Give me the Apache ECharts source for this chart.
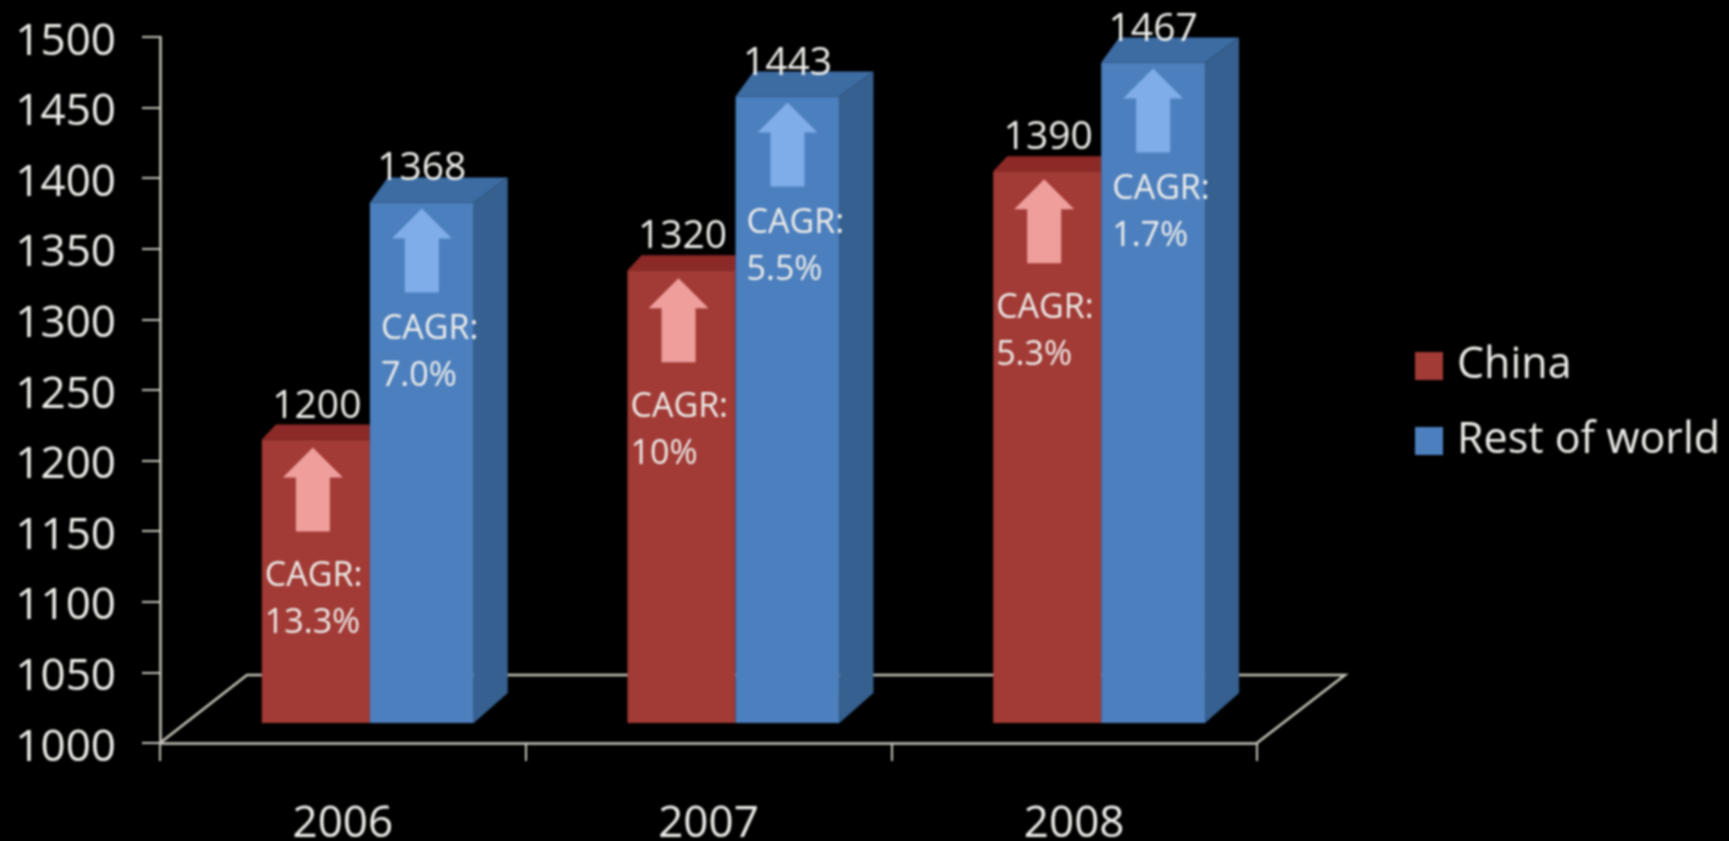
<!DOCTYPE html>
<html><head><meta charset="utf-8">
<style>html,body{margin:0;padding:0;background:#000}#c{width:1729px;height:841px;filter:blur(0.8px)}</style>
<script src="https://cdn.jsdelivr.net/npm/echarts@6/dist/echarts.min.js"></script>
</head><body><div id="c"></div>
<script>
const years = ['2006','2007','2008'];
const china = [1200,1320,1390];
const restOfWorld = [1368,1443,1467];
const chinaCagr = ['13.3%','10%','5.3%'];
const restCagr = ['7.0%','5.5%','1.7%'];

const FONT = '"Open Sans", sans-serif';
const GREY = '#c4c4ba';
const TEXT = '#ededea';
const LIFT = 20;

function arrow(cx, tip, color) {
  const pts = [[cx,tip],[cx+30,tip+30],[cx+17,tip+30],[cx+17,tip+84],[cx-17,tip+84],[cx-17,tip+30],[cx-30,tip+30]];
  return {type:'polygon', shape:{points:pts}, style:{fill:color}, z2:5};
}
function text(x,y,str,size,align){
  return {type:'text', z2:100, style:{x:x,y:y,text:str,fill:TEXT,font:'400 '+size+'px '+FONT,textAlign:align,textVerticalAlign:'middle'}};
}
function barItem(kind, cagr){
  return function(params, api){
    const i = api.value(0), v = api.value(1);
    const p = api.coord([i,v]), base = api.coord([i,1000]);
    const band = api.size([1,0])[0];
    const cx = p[0];
    const xL = cx - band*0.2215, xM = cx + band*0.074, xR = cx + band*0.358;
    const yT = p[1]-LIFT-1, yB = base[1]-LIFT;
    const kids = [];
    if(kind==='red'){
      kids.push({type:'polygon',shape:{points:[[xL,yT],[xM,yT],[xM,yT-15],[xL+14,yT-15]]},style:{fill:'#8c2a27'}});
      kids.push({type:'rect',shape:{x:xL,y:yT,width:xM-xL,height:yB-yT},style:{fill:'#a23a35'}});
      const c=(xL+xM)/2;
      kids.push(arrow(c-3,yT+8,'#ee9f9c'));
      kids.push(text(c+1,yT-33,String(v),39,'center'));
      kids.push(text(xL+3,yT+137,'CAGR:',34,'left'));
      kids.push(text(xL+3,yT+184,cagr[i],34,'left'));
    } else {
      kids.push({type:'polygon',shape:{points:[[xM,yT],[xR,yT],[xR+34,yT-25],[xM+18,yT-25]]},style:{fill:'#3d6ca3'}});
      kids.push({type:'polygon',shape:{points:[[xR,yT],[xR+34,yT-25],[xR+34,yB-30],[xR,yB]]},style:{fill:'#35608f'}});
      kids.push({type:'rect',shape:{x:xM,y:yT,width:xR-xM,height:yB-yT},style:{fill:'#4c7fbe'}});
      const c=(xM+xR)/2;
      kids.push(arrow(c,yT+6,'#7fadea'));
      kids.push(text(c,yT-33,String(v),39,'center'));
      kids.push(text(xM+11,yT+127,'CAGR:',34,'left'));
      kids.push(text(xM+11,yT+174,cagr[i],34,'left'));
    }
    return {type:'group',children:kids};
  };
}
function floorItem(params){
  const g = params.coordSys, x0=g.x, x1=g.x+g.width, y0=g.y+g.height;
  return {type:'polyline',shape:{points:[[x0,y0],[x0+87,y0-68],[x1+88,y0-68],[x1,y0]]},
    style:{fill:'none',stroke:GREY,lineWidth:2.5}};
}
const chart = echarts.init(document.getElementById('c'));
chart.setOption({
  backgroundColor:'#000',
  animation:false,
  grid:{left:160,right:472,top:37,bottom:98,outerBoundsMode:'none'},
  legend:{orient:'vertical',left:1410,top:336,itemWidth:28,itemHeight:28,itemGap:25,icon:'rect',
    data:['China','Rest of world'],selectedMode:false,
    textStyle:{color:TEXT,fontFamily:FONT,fontSize:43,padding:[0,0,0,9],lineHeight:50}},
  xAxis:{type:'category',data:years,
    axisLine:{lineStyle:{color:GREY,width:2.5}},
    axisTick:{show:true,length:18,lineStyle:{color:GREY,width:2}},
    axisLabel:{color:TEXT,fontFamily:FONT,fontSize:44,margin:59}},
  yAxis:{type:'value',min:1000,max:1500,interval:50,
    splitLine:{show:false},
    axisLine:{show:true,lineStyle:{color:GREY,width:2.5}},
    axisTick:{show:true,length:18,lineStyle:{color:GREY,width:2}},
    axisLabel:{color:TEXT,fontFamily:FONT,fontSize:44,margin:44,formatter:v=>'{a|'+v+'}',
      rich:{a:{color:TEXT,fontFamily:FONT,fontSize:44,padding:[10,0,0,0]}}}},
  series:[
    {type:'custom',name:'floor',silent:true,data:[[0,1000]],encode:{x:0,y:1},renderItem:floorItem,z:1},
    {type:'custom',name:'China',itemStyle:{color:'#a23a35'},data:china.map((v,i)=>[i,v]),encode:{x:0,y:1},renderItem:barItem('red',chinaCagr),z:2},
    {type:'custom',name:'Rest of world',itemStyle:{color:'#4c7fbe'},data:restOfWorld.map((v,i)=>[i,v]),encode:{x:0,y:1},renderItem:barItem('blue',restCagr),z:2}
  ]
});
</script></body></html>
